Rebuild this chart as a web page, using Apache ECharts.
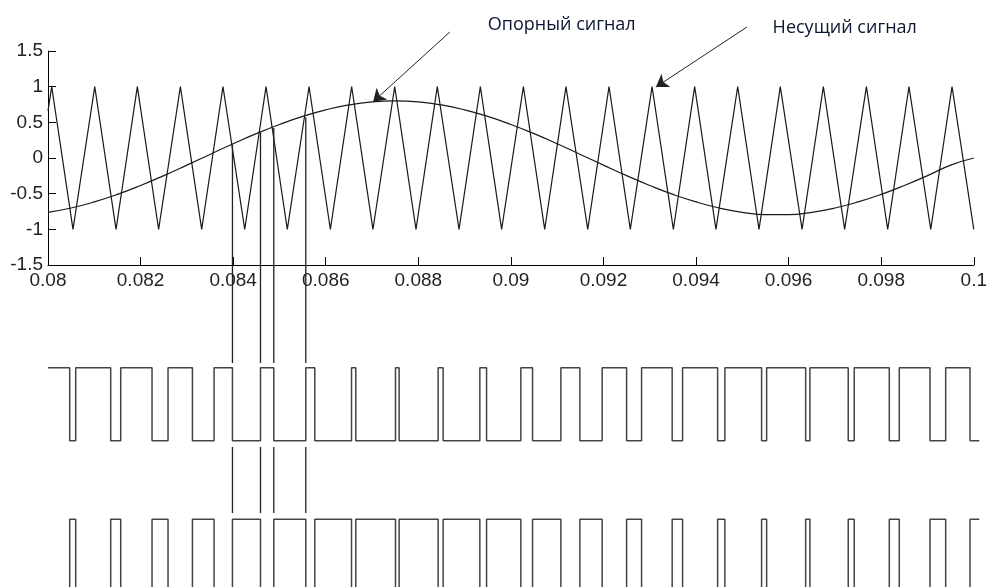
<!DOCTYPE html>
<html><head><meta charset="utf-8">
<script src="https://cdn.jsdelivr.net/npm/echarts@6/dist/echarts.min.js"></script>
<style>html,body{margin:0;padding:0;background:#fff}#c{width:990px;height:587px}</style>
</head><body><div id="c"></div>
<script>
// ---- data ----
const sineT = [0.08,0.0805,0.081,0.0815,0.082,0.0825,0.083,0.0835,0.084,0.0845,0.085,0.0855,0.086,0.0865,0.087,0.0875,0.088,0.0885,0.089,0.0895,0.09,0.0905,0.091,0.0915,0.092,0.0925,0.093,0.0935,0.094,0.0945,0.095,0.0955,0.096,0.0965,0.097,0.0975,0.098,0.0985,0.099,0.0995,0.1];
const sineV = [-0.761,-0.701,-0.616,-0.510,-0.385,-0.247,-0.100,0.050,0.199,0.341,0.470,0.583,0.675,0.744,0.786,0.800,0.786,0.744,0.675,0.583,0.470,0.341,0.199,0.050,-0.100,-0.247,-0.385,-0.510,-0.616,-0.701,-0.761,-0.794,-0.794,-0.761,-0.701,-0.616,-0.510,-0.385,-0.247,-0.100,0.000];

const carrierT = [0.08,0.08008,0.08054,0.08101,0.08147,0.08193,0.08239,0.08286,0.08332,0.08378,0.08425,0.08471,0.08517,0.08564,0.08610,0.08656,0.08702,0.08749,0.08795,0.08841,0.08888,0.08934,0.08980,0.09027,0.09073,0.09119,0.09166,0.09212,0.09258,0.09305,0.09351,0.09397,0.09443,0.09490,0.09536,0.09582,0.09629,0.09675,0.09721,0.09768,0.09814,0.09860,0.09907,0.09953,0.1];
const carrierV = [0.66,1,-1,1,-1,1,-1,1,-1,1,-1,1,-1,1,-1,1,-1,1,-1,1,-1,1,-1,1,-1,1,-1,1,-1,1,-1,1,-1,1,-1,1,-1,1,-1,1,-1,1,-1,1,-1];

const pwmT = [0.08,0.080465,0.080594,0.081344,0.081559,0.082230,0.082573,0.083096,0.083560,0.083954,0.084555,0.084840,0.085526,0.085719,0.086506,0.086598,0.087449,0.087527,0.088363,0.088470,0.089257,0.089401,0.090136,0.090387,0.090994,0.091401,0.091879,0.092403,0.092724,0.093380,0.093603,0.094354,0.094510,0.095297,0.095405,0.096241,0.096333,0.097154,0.097283,0.098034,0.098248,0.098906,0.099243,0.099764,0.099964];
const pwmTop    = [1,0,1,0,1,0,1,0,1,0,1,0,1,0,1,0,1,0,1,0,1,0,1,0,1,0,1,0,1,0,1,0,1,0,1,0,1,0,1,0,1,0,1,0,0];
const pwmBottom = [0,1,0,1,0,1,0,1,0,1,0,1,0,1,0,1,0,1,0,1,0,1,0,1,0,1,0,1,0,1,0,1,0,1,0,1,0,1,0,1,0,1,0,1,1];

const connT = [0.083954,0.084555,0.084840,0.085526];
const connV = [0.19,0.36,0.42,0.57];

const annText = ['Опорный сигнал','Несущий сигнал'];
const annPoint = [[0.089428,1.864],[0.095533,1.822]];
const arrowFrom = [[0.088614,1.766],[0.094982,1.836]];
const arrowTo = [[0.086969,0.789],[0.093031,0.995]];

const xMin = 0.08, xMax = 0.1, xStep = 0.002;
const yMin = -1.5, yMax = 1.5, yStep = 0.5;

// ---- layout (pixels) ----
const W = 990, HT = 587;
const L = 48, R = 9, TOP = 51, H = 214;
const pxPerUnit = H / (yMax - yMin);
// overlay grid covers the full canvas height, same vertical scale as the top plot
const oMax = yMax + TOP / pxPerUnit;
const oMin = yMax - (HT - TOP) / pxPerUnit;
// overlay levels (in overlay units)
const topLow = -3.963, topAmp = 1.023, botLow = -6.084, botAmp = 1.019;
const seg1End = -2.874, seg2Start = -4.051, seg2End = -4.977;

const zip = (a, b) => a.map((v, i) => [v, b[i]]);

const connData = [];
connT.forEach((t, i) => {
  connData.push([t, connV[i]], [t, seg1End], null, [t, seg2Start], [t, seg2End], null);
});

const chart = echarts.init(document.getElementById('c'), null, {renderer: 'canvas'});
const labelFont = {fontFamily: 'Liberation Sans', fontSize: 19, color: '#222'};
chart.setOption({
  animation: false,
  backgroundColor: '#fff',
  grid: [
    {left: L, right: R, top: TOP, height: H},
    {left: L, right: R, top: 0, bottom: 0}
  ],
  xAxis: [
    {type: 'value', gridIndex: 0, min: xMin, max: xMax, interval: xStep,
     axisLine: {show: true, onZero: false, lineStyle: {color: '#000', width: 1}},
     axisTick: {show: true, inside: true, length: 8, lineStyle: {color: '#000'}},
     axisLabel: Object.assign({margin: 6, showMinLabel: true, showMaxLabel: true}, labelFont),
     splitLine: {show: false}},
    {type: 'value', gridIndex: 1, min: xMin, max: xMax, show: false}
  ],
  yAxis: [
    {type: 'value', gridIndex: 0, min: yMin, max: yMax, interval: yStep,
     axisLine: {show: true, onZero: false, lineStyle: {color: '#000', width: 1}},
     axisTick: {show: true, inside: true, length: 8, lineStyle: {color: '#000'}},
     axisLabel: Object.assign({margin: 5}, labelFont),
     splitLine: {show: false}},
    {type: 'value', gridIndex: 1, min: oMin, max: oMax, show: false}
  ],
  series: [
    {type: 'line', name: 'sine', xAxisIndex: 0, yAxisIndex: 0, data: zip(sineT, sineV),
     smooth: true, showSymbol: false, lineStyle: {color: '#1a1a1a', width: 1.2}},
    {type: 'line', name: 'carrier', xAxisIndex: 0, yAxisIndex: 0, data: zip(carrierT, carrierV),
     showSymbol: false, lineStyle: {color: '#1a1a1a', width: 1.2}},
    {type: 'line', name: 'pwmTop', xAxisIndex: 1, yAxisIndex: 1, step: 'end',
     data: pwmT.map((t, i) => [t, topLow + pwmTop[i] * topAmp]),
     showSymbol: false, lineStyle: {color: '#444', width: 1.5}},
    {type: 'line', name: 'pwmBottom', xAxisIndex: 1, yAxisIndex: 1, step: 'end',
     data: pwmT.map((t, i) => [t, botLow + pwmBottom[i] * botAmp]),
     showSymbol: false, lineStyle: {color: '#444', width: 1.5}},
    {type: 'line', name: 'conn', xAxisIndex: 1, yAxisIndex: 1, data: connData,
     connectNulls: false, showSymbol: false, lineStyle: {color: '#222', width: 1.3}},
    {type: 'lines', coordinateSystem: 'cartesian2d', xAxisIndex: 1, yAxisIndex: 1,
     symbol: ['none', 'arrow'], symbolSize: [8, 12],
     lineStyle: {color: '#222', width: 1, opacity: 1},
     data: arrowFrom.map((p, i) => ({coords: [p, arrowTo[i]]}))},
    {type: 'scatter', xAxisIndex: 1, yAxisIndex: 1, symbolSize: 0,
     itemStyle: {opacity: 1},
     data: annPoint.map((p, i) => ({value: p, name: annText[i]})),
     label: {show: true, position: 'right', distance: 0, formatter: '{b}', opacity: 1,
             fontFamily: 'Open Sans', fontSize: 18, fontWeight: 500, color: '#0c1630', verticalAlign: 'middle'}}
  ]
});
</script></body></html>
